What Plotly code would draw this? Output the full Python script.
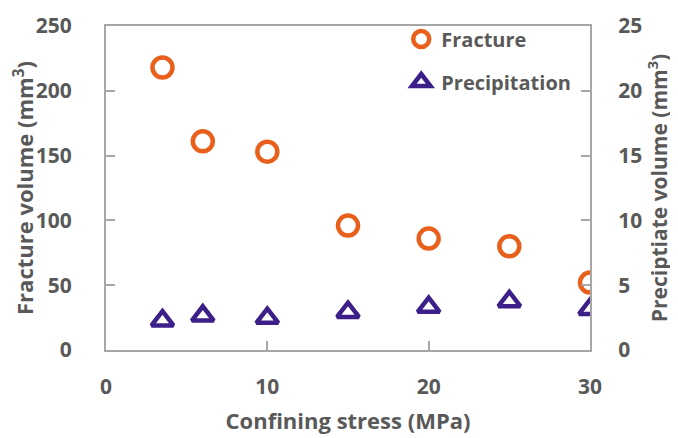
import plotly.graph_objects as go

confining_stress = [3.5, 6, 10, 15, 20, 25, 30]
fracture_volume = [218, 161, 153, 96, 86, 80, 52]
precipitate_volume = [2.26, 2.64, 2.46, 2.92, 3.31, 3.75, 3.15]

x_ticks = [0, 10, 20, 30]
y1_ticks = [0, 50, 100, 150, 200, 250]
y2_ticks = [0, 5, 10, 15, 20, 25]

ORANGE = "#E8601C"
PURPLE = "#3D1F8A"
GRAY_TXT = "#595959"
GRAY_LINE = "#A6A6A6"
FONT = "Open Sans"

fig = go.Figure()
fig.add_trace(go.Scatter(
    x=confining_stress, y=fracture_volume, name="Fracture", mode="markers",
    marker=dict(symbol="circle-open", size=20, color=ORANGE, line=dict(width=4.5, color=ORANGE)),
    legendgroup="a", yaxis="y",
))
fig.add_trace(go.Scatter(
    x=confining_stress, y=precipitate_volume, name="Precipitation", mode="markers",
    marker=dict(symbol="triangle-up-open", size=19, color=PURPLE, line=dict(width=4.5, color=PURPLE)),
    legendgroup="b", yaxis="y2",
))

axis_common = dict(
    showline=True, linecolor=GRAY_LINE, linewidth=2,
    ticks="inside", ticklen=9, tickwidth=2, tickcolor=GRAY_LINE,
    showgrid=False, zeroline=False, automargin=False,
    tickfont=dict(family=FONT, size=21, color=GRAY_TXT, weight="bold"),
)

# page body has an 8px margin, so the figure is offset by (8, 8)
fig.update_layout(
    width=670, height=430,
    margin=dict(l=98, r=88, t=12, b=88),
    paper_bgcolor="white", plot_bgcolor="white",
    font=dict(family=FONT, color=GRAY_TXT, weight="bold"),
    showlegend=True,
    legend=dict(
        x=0.61, y=1.02, xanchor="left", yanchor="top",
        bgcolor="rgba(0,0,0,0)", tracegroupgap=14,
        traceorder="grouped",
        font=dict(family=FONT, size=20, color=GRAY_TXT, weight="bold"),
    ),
    xaxis=dict(
        **axis_common, range=[0, 30], tickvals=x_ticks, mirror=True,
        ticklabelstandoff=17,
        title=dict(text="Confining stress (MPa)", standoff=14,
                   font=dict(family=FONT, size=22, color=GRAY_TXT, weight="bold")),
    ),
    yaxis=dict(
        **axis_common, range=[0, 250], tickvals=y1_ticks,
        ticklabelstandoff=28,
        title=dict(text="Fracture volume (mm<sup>3</sup>)", standoff=34,
                   font=dict(family=FONT, size=22, color=GRAY_TXT, weight="bold")),
    ),
    yaxis2=dict(
        **axis_common, range=[0, 25], tickvals=y2_ticks, overlaying="y", side="right",
        ticklabelstandoff=22,
        title=dict(text="Preciptiate volume (mm<sup>3</sup>)", standoff=10,
                   font=dict(family=FONT, size=21, color=GRAY_TXT, weight="bold")),
    ),
)

fig.write_html("out.html")
